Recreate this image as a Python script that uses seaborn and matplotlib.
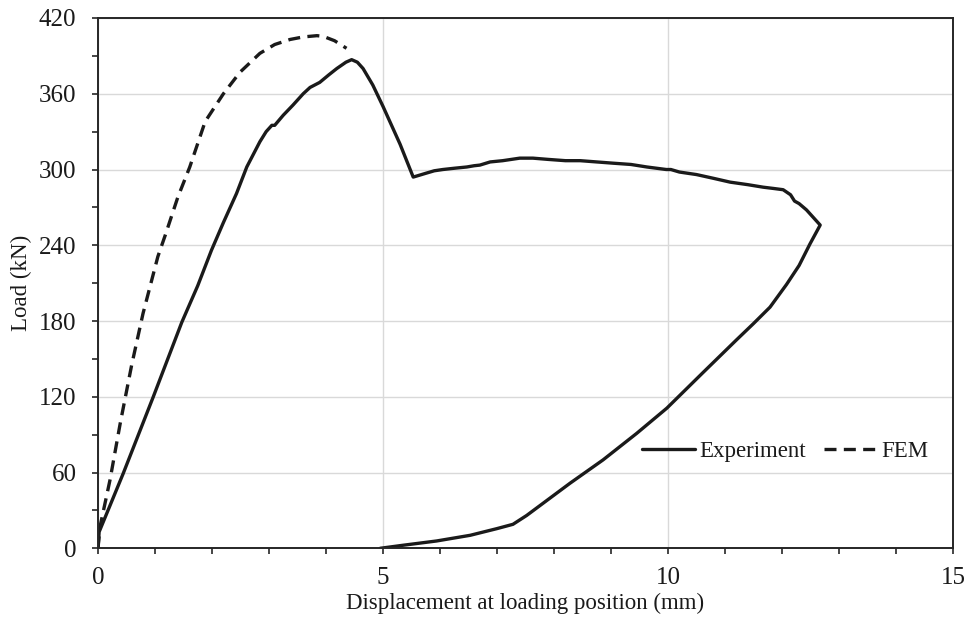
import numpy as np
import pandas as pd
import matplotlib
matplotlib.use("Agg")
import matplotlib.pyplot as plt
import seaborn as sns
from matplotlib.ticker import MultipleLocator

# ---- data ----
exp_x = [0.0, 0.02, 0.44, 0.97, 1.47, 1.75, 1.99, 2.20, 2.43, 2.61, 2.84, 2.95, 3.05,
         3.10, 3.25, 3.42, 3.60, 3.72, 3.89, 4.05, 4.19, 4.35, 4.45, 4.55, 4.65,
         4.82, 5.00, 5.30, 5.53, 5.75, 5.90, 6.05, 6.25, 6.47, 6.60, 6.70, 6.88,
         7.10, 7.25, 7.40, 7.63, 7.90, 8.20, 8.46, 8.75, 9.04, 9.35, 9.63, 9.97,
         10.05, 10.20, 10.50, 10.80, 11.09, 11.40, 11.67, 11.85, 12.02, 12.15,
         12.22, 12.30, 12.43, 12.55, 12.67,
         12.49, 12.30, 12.08, 11.79, 11.50, 11.20, 10.61, 9.98, 9.45, 8.86, 8.28,
         7.52, 7.28, 7.00, 6.53, 5.94, 5.35, 4.95]
exp_y = [0, 13, 59, 120, 179, 208, 236, 258, 281, 302, 322, 330, 335,
         335, 343, 351, 360, 365, 369, 375, 380, 385, 387, 385, 380,
         367, 350, 320, 294, 297, 299, 300, 301, 302, 303, 303.5, 306,
         307, 308, 309, 309, 308, 307, 307, 306, 305, 304, 302, 300,
         300, 298, 296, 293, 290, 288, 286, 285, 284, 280,
         275, 273, 268, 262, 256,
         241, 224, 209, 191, 178, 165, 139, 111, 91, 70, 51.5,
         26, 19, 15.6, 10.3, 5.8, 2.4, 0]

fem_x = [0.0, 0.035, 0.21, 0.39, 0.59, 0.79, 1.05, 1.18, 1.40, 1.61, 1.88, 2.20,
         2.49, 2.84, 3.10, 3.37, 3.60, 3.84, 3.95, 4.15, 4.36]
fem_y = [0, 17, 54, 99, 145, 186, 231, 248, 278, 302, 338, 360,
         377, 392, 399, 403, 405, 406, 405.5, 402, 396]

x_label = "Displacement at loading position (mm)"
y_label = "Load (kN)"
series_names = ["Experiment", "FEM"]

# ---- style ----
sns.set_theme(style="white")
plt.rcParams['font.family'] = ['Liberation Serif', 'DejaVu Serif']

FS = 16.5
TFS = 18
ink = "#1a1a1a"

fig, ax = plt.subplots(figsize=(9.67, 6.26), dpi=100)
fig.subplots_adjust(left=98/967, right=953/967, top=1-18/626, bottom=1-548.3/626)

df_exp = pd.DataFrame({"x": exp_x, "y": exp_y})
df_fem = pd.DataFrame({"x": fem_x, "y": fem_y})

sns.lineplot(data=df_exp, x="x", y="y", sort=False, estimator=None, ax=ax,
             color=ink, linewidth=2.4, label=series_names[0])
sns.lineplot(data=df_fem, x="x", y="y", sort=False, estimator=None, ax=ax,
             color=ink, linewidth=2.4, linestyle=(0, (3.6, 2.2)), label=series_names[1])
for ln in ax.lines:
    ln.set_solid_joinstyle("round")
    ln.set_dash_joinstyle("round")

ax.set_xlim(0, 15)
ax.set_ylim(0, 420)
ax.xaxis.set_major_locator(MultipleLocator(5))
ax.xaxis.set_minor_locator(MultipleLocator(1))
ax.yaxis.set_major_locator(MultipleLocator(60))
ax.yaxis.set_minor_locator(MultipleLocator(30))

ax.grid(True, which="major", color="#d9d9d9", linewidth=1.0)
ax.set_axisbelow(True)

for side in ["left", "bottom", "top", "right"]:
    ax.spines[side].set_visible(True)
    ax.spines[side].set_color("#262626")
    ax.spines[side].set_linewidth(1.4)

ax.tick_params(axis="both", which="both", direction="out", length=4.5, width=1.2,
               color="#262626", labelsize=TFS, labelcolor=ink)
ax.tick_params(axis="x", which="major", pad=9)
ax.tick_params(axis="y", which="major", pad=11)
ax.tick_params(axis="x", which="both", bottom=True, top=False)
ax.tick_params(axis="y", which="both", left=True, right=False)

ax.set_xlabel(x_label, fontsize=FS, color=ink, labelpad=3)
ax.set_ylabel(y_label, fontsize=FS, color=ink, labelpad=5)

leg = ax.legend(loc="center", bbox_to_anchor=(0.804, 0.182), ncol=2, frameon=False,
                fontsize=FS, handlelength=2.3, handletextpad=0.2, columnspacing=0.8)
for t in leg.get_texts():
    t.set_color(ink)

fig.savefig("out.png", dpi=100)
